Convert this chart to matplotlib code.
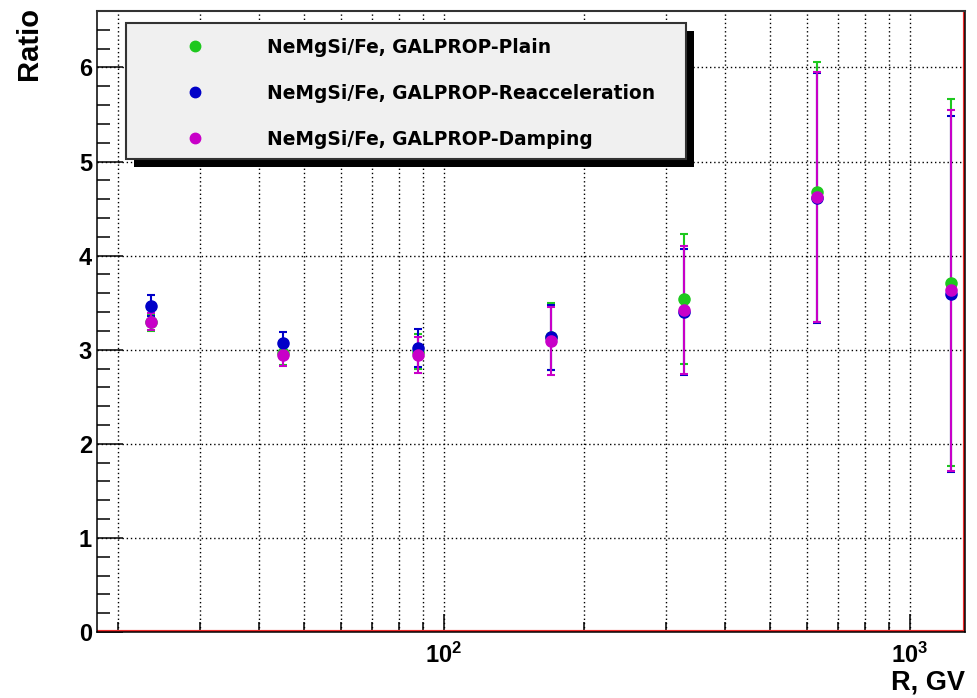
import matplotlib.pyplot as plt
from matplotlib.patches import Rectangle
from matplotlib.lines import Line2D
from matplotlib.ticker import LogLocator, MultipleLocator, NullFormatter

plt.rcParams['font.family'] = ['Liberation Sans', 'DejaVu Sans']
plt.rcParams['font.weight'] = 'bold'

# rigidity bin centres, GV
rigidity = [23.5, 45.2, 87.8, 169.5, 327.5, 632.0, 1223.0]

# NeMgSi/Fe ratio for the three propagation models
plain = [3.29, 2.96, 2.98, 3.14, 3.54, 4.68, 3.71]
plain_err = [0.09, 0.12, 0.19, 0.36, 0.69, 1.38, 1.95]

reacc = [3.47, 3.07, 3.02, 3.13, 3.40, 4.61, 3.59]
reacc_err = [0.11, 0.12, 0.20, 0.35, 0.67, 1.33, 1.89]

damping = [3.30, 2.94, 2.94, 3.09, 3.42, 4.62, 3.63]
damping_err = [0.09, 0.11, 0.19, 0.36, 0.68, 1.33, 1.92]

labels = ['NeMgSi/Fe, GALPROP-Plain',
          'NeMgSi/Fe, GALPROP-Reacceleration',
          'NeMgSi/Fe, GALPROP-Damping']
colors = ['#1ec81e', '#0000c8', '#c800c8']

W, H = 978, 698
fig = plt.figure(figsize=(W / 100, H / 100), dpi=100)
ax = fig.add_axes([97 / W, 1 - 632 / H, 868 / W, 621 / H])


def fig_xy(x, y):
    # pixel position (from top-left) -> figure fraction
    return x / W, 1 - y / H


series = [(plain, plain_err), (reacc, reacc_err), (damping, damping_err)]
for (vals, errs), c in zip(series, colors):
    ax.errorbar(rigidity, vals, yerr=errs, fmt='o', color=c, ms=8, lw=1.5,
                capsize=3, capthick=1.5, zorder=3)

ax.set_xscale('log')
ax.set_xlim(18, 1312)
ax.set_ylim(0, 6.6)

ax.xaxis.set_minor_locator(LogLocator(base=10, subs=range(2, 10)))
ax.xaxis.set_minor_formatter(NullFormatter())
ax.yaxis.set_major_locator(MultipleLocator(1))
ax.yaxis.set_minor_locator(MultipleLocator(0.2))

ax.tick_params(axis='x', which='major', direction='in', length=13, width=1.1,
               pad=8, labelsize=17)
ax.tick_params(axis='x', which='minor', direction='in', length=7, width=1.1)
ax.tick_params(axis='y', which='major', direction='in', length=19, width=1.1,
               pad=3.6, labelsize=17)
ax.tick_params(axis='y', which='minor', direction='in', length=9.5, width=1.1)

# dotted grid: every x tick, only the major y ticks
ax.set_axisbelow(True)
ax.grid(True, which='both', axis='x', color='black', linestyle=(0, (1, 2)), lw=1.0)
ax.grid(True, which='major', axis='y', color='black', linestyle=(0, (1, 2)), lw=1.0)

for s in ax.spines.values():
    s.set_linewidth(1.1)
    s.set_color('black')
ax.spines['top'].set_color('#333333')
ax.spines['top'].set_linewidth(1.5)

# red frame line along the bottom and right edges
ax.axhline(0, color='#ee2a2a', lw=3, zorder=2)
ax.axvline(1312, color='#ee2a2a', lw=3, zorder=2)

# legend box with drop shadow
x0, y0, x1, y1 = 126, 23, 686, 159
fig.add_artist(Rectangle(fig_xy(x0 + 8, y1 + 8), (x1 - x0) / W, (y1 - y0) / H,
                         transform=fig.transFigure, fc='black', ec='none', zorder=5))
fig.add_artist(Rectangle(fig_xy(x0, y1), (x1 - x0) / W, (y1 - y0) / H,
                         transform=fig.transFigure, fc='#f0f0f0', ec='#333333',
                         lw=1.5, zorder=6))
for i, (lab, c) in enumerate(zip(labels, colors)):
    row = 46 + 46 * i
    mx, my = fig_xy(195, row)
    fig.add_artist(Line2D([mx], [my], marker='o', ms=7.5, color=c, ls='none',
                          transform=fig.transFigure, zorder=7))
    tx, ty = fig_xy(267, row + 7)
    fig.text(tx, ty, lab, fontsize=13.4, fontweight='bold', family='DejaVu Sans',
             va='baseline', ha='left', zorder=7)

# axis titles
rx, ry = fig_xy(29, 7)
fig.text(rx, ry, 'Ratio', rotation=90, ha='center', va='top', fontsize=21,
         fontweight='bold')
gx, gy = fig_xy(965, 690)
fig.text(gx, gy, 'R, GV', ha='right', va='baseline', fontsize=19.5,
         fontweight='bold')

fig.savefig('out.png', dpi=100)
